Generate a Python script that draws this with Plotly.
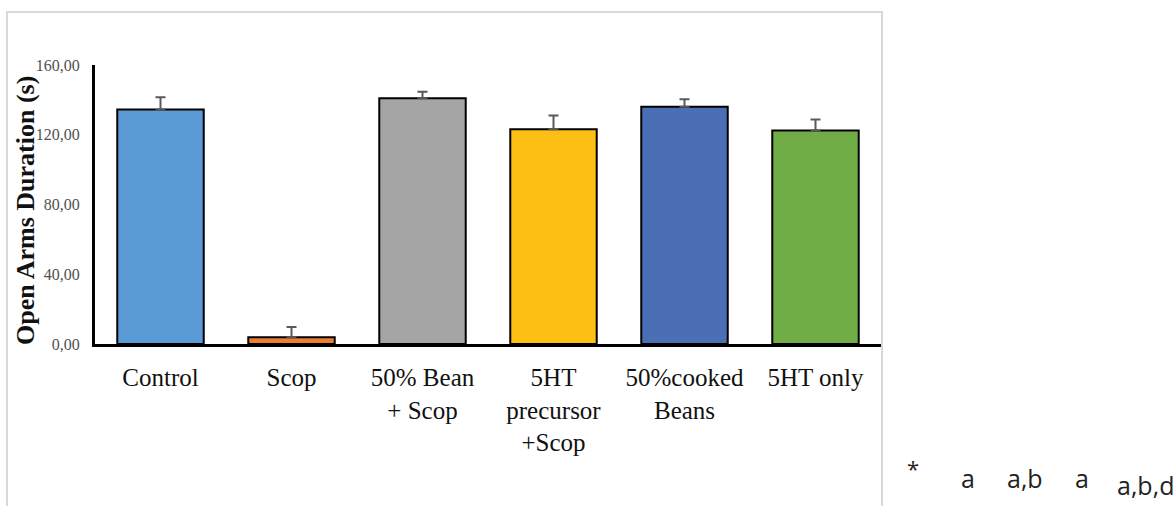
import plotly.graph_objects as go

categories = ["Control", "Scop", "50% Bean<br>+ Scop", "5HT<br>precursor<br>+Scop", "50%cooked<br>Beans", "5HT only"]
means = [134.5, 3.8, 140.9, 123.1, 136.1, 122.5]
errors = [7.0, 6.0, 3.8, 8.0, 4.2, 6.3]
colors = ["#5B9BD5", "#ED7D31", "#A5A5A5", "#FDBF14", "#4A6FB5", "#70AD47"]
y_ticks = [0, 40, 80, 120, 160]
sig_labels = ["*", "a", "a,b", "a", "a,b,d"]
y_title = "<b>Open Arms Duration (s)</b>"

W, H = 1173, 506
L, R, T, B = 95, 292, 65, 162
pw, ph = W - L - R, H - T - B

def px_x(x):
    return (x - L) / pw

def px_y(y):
    return (H - B - y) / ph

fig = go.Figure()
fig.add_trace(go.Bar(
    x=categories, y=means,
    marker=dict(color=colors, line=dict(color="black", width=2)),
    width=0.66,
    error_y=dict(type="data", array=errors, symmetric=False,
                 arrayminus=[0] * len(errors), color="#595959",
                 thickness=2, width=5),
))

fig.update_layout(
    width=W, height=H,
    margin=dict(l=L, r=R, t=T, b=B),
    paper_bgcolor="white", plot_bgcolor="white",
    separators=",.",
    showlegend=False,
    font=dict(family="Liberation Serif", color="#000000"),
    xaxis=dict(showline=True, linecolor="black", linewidth=3,
               showgrid=False, ticks="", tickfont=dict(size=25, color="#111111"),
               ticklabelstandoff=9, tickangle=0),
    yaxis=dict(range=[0, 160], tickvals=y_ticks, tickformat=".2f",
               showline=True, linecolor="black", linewidth=3,
               showgrid=False, zeroline=False, ticks="",
               tickfont=dict(size=16, color="#505050"),
               ticklabelstandoff=9),
)

# y-axis title placed as rotated text
fig.add_annotation(text=y_title, xref="paper", yref="paper",
                   x=px_x(25), y=px_y(211), showarrow=False, textangle=-90,
                   font=dict(family="Liberation Serif", size=26, color="#111111"),
                   xanchor="center", yanchor="middle")

# light gray border around the chart area
fig.add_shape(type="rect", xref="paper", yref="paper",
              x0=px_x(7), x1=px_x(882), y0=px_y(520), y1=px_y(12),
              line=dict(color="#D9D9D9", width=2), fillcolor="rgba(0,0,0,0)", layer="below")

sig_x = [913, 968, 1025, 1082, 1145]
sig_y = [468, 478, 478, 478, 485]
sig_size = [22, 25, 25, 25, 25]
for lab, sx, sy, ss in zip(sig_labels, sig_x, sig_y, sig_size):
    fig.add_annotation(text=lab, xref="paper", yref="paper",
                       x=px_x(sx), y=px_y(sy), showarrow=False,
                       font=dict(family="Open Sans", size=ss, color="#222222"),
                       xanchor="center", yanchor="middle")

fig.write_html("out.html", config={"displayModeBar": False},
               post_script="document.body.style.margin='0';")
